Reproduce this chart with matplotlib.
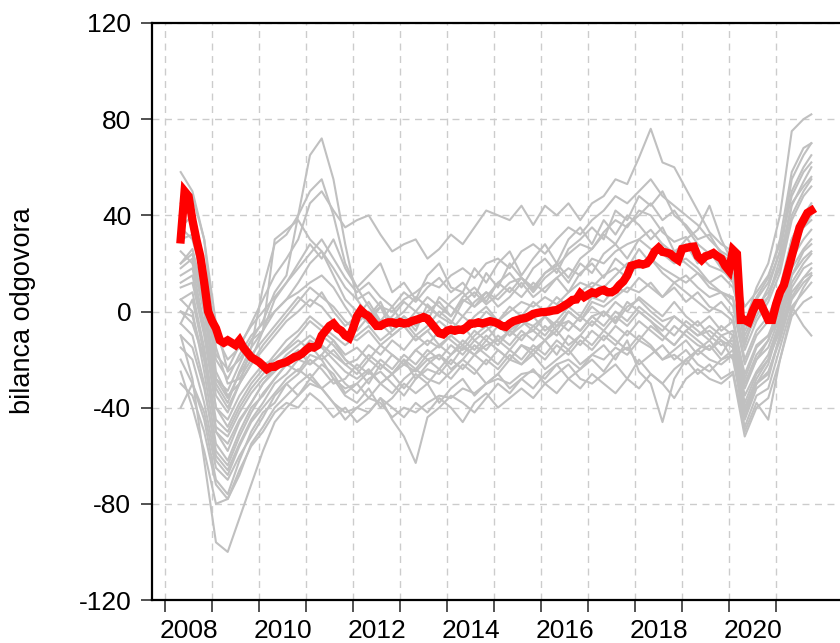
import numpy as np
import matplotlib
matplotlib.use("Agg")
import matplotlib.pyplot as plt

plt.rcParams['font.family'] = ['Liberation Sans', 'DejaVu Sans']
plt.rcParams['axes.unicode_minus'] = False

# monthly red series, May 2008 - Oct 2021
red = [30, 50, 48, 38, 30, 23, 12, 0, -4, -7,
       -12, -13, -12, -13, -14, -12, -15, -17, -19, -20,
       -21, -22.5, -24, -23, -23, -22, -21.5, -21, -20, -19,
       -18.5, -17.5, -16, -14.7, -15, -14, -10, -8, -6, -5,
       -7, -8, -10, -11, -7, -2, 0.5, -1, -2, -4,
       -6, -6, -5, -4.5, -4.5, -5, -4.4, -5, -4.8, -4,
       -3.5, -3, -2.3, -3, -5, -7, -9, -9.5, -8, -7.5,
       -8, -7.5, -7.7, -6.5, -5, -5, -4.5, -5, -4.5, -4,
       -4.4, -5, -6, -6.4, -5, -4, -3.5, -3, -2.7, -2,
       -1, -0.6, -0.3, -0.2, 0, 0.4, 0.6, 1.5, 2.5, 3.5,
       4.8, 5, 7.5, 6, 7, 8, 7.5, 8.5, 9, 8,
       8, 9, 11, 12.5, 15, 19, 19.5, 20, 19.5, 20,
       22, 25, 26.5, 24.8, 24.5, 24, 22.5, 21.4, 26, 26.4,
       26.8, 27, 23, 21.4, 23, 23.5, 24.3, 23, 22, 19,
       17, 25.6, 24, -3.5, -3.5, -4.4, 0, 3.5, 3.5, 0,
       -3.5, -3.5, 3, 8, 11, 17, 23, 29, 35, 38,
       41, 42]
red_months = list(range(len(red)))

# grey series, read roughly every quarter
grey_months = list(range(0, 160, 3)) + [161]

grey = [
    [20, 26, 6, -28, -33, -22, -12, -4, 8, 15, 40, 65, 72, 55, 28, 5, -2, 4, -6, -2,
     -8, 3, -2, -5, 4, 8, 3, 7, 12, 14, 9, 16, 19, 24, 28, 26, 33, 38, 35, 42,
     40, 33, 29, 31, 24, 19, 17, 14, -14, 1, 6, 19, 44, 54, 60],
    [35, 40, 20, -10, -20, -15, -5, 5, 15, 22, 30, 45, 50, 42, 35, 38, 40, 32, 25, 28,
     30, 22, 26, 32, 28, 35, 42, 40, 38, 44, 36, 44, 40, 45, 38, 45, 48, 55, 53, 64,
     76, 62, 60, 51, 42, 33, 28, 25, -5, 5, 12, 25, 55, 65, 70],
    [-10, -28, -62, -96, -100, -86, -72, -58, -46, -40, -35, -30, -32, -38, -42, -40, -36, -38, -44, -40,
     -42, -38, -35, -36, -32, -34, -30, -28, -30, -26, -25, -28, -22, -20, -24, -18, -20, -15, -18, -12,
     -15, -20, -18, -22, -16, -20, -22, -18, -40, -30, -25, -12, 5, 12, 15],
    [58, 50, 30, -5, -25, -20, -12, -8, 0, 5, 12, 20, 25, 18, 10, 5, 8, 2, 0, 5,
     8, 12, 10, 15, 18, 14, 20, 22, 18, 25, 28, 24, 30, 35, 32, 38, 42, 48, 45, 50,
     55, 48, 44, 40, 36, 30, 25, 22, -5, 10, 20, 40, 75, 80, 82],
    [0, -5, -20, -50, -55, -45, -38, -30, -25, -20, -18, -12, -15, -20, -25, -28, -24, -30, -26, -22,
     -25, -20, -18, -22, -15, -18, -14, -12, -16, -10, -8, -12, -6, -4, -8, -2, 0, -5, 2, 5,
     0, -4, -2, -6, -10, -8, -12, -15, -50, -38, -45, -20, 0, 10, 15],
    [-20, -30, -45, -70, -76, -62, -50, -42, -38, -30, -35, -28, -32, -38, -45, -40, -42, -36, -45, -52,
     -63, -44, -40, -35, -38, -42, -36, -30, -34, -28, -32, -26, -22, -28, -24, -20, -25, -18, -15, -22,
     -18, -14, -20, -16, -22, -25, -20, -18, -42, -30, -22, -5, 15, 25, 28],
    [5, 0, -25, -55, -62, -50, -40, -35, -28, -22, -25, -18, -20, -28, -32, -30, -25, -30, -34, -28,
     -24, -28, -30, -25, -20, -24, -30, -26, -20, -22, -18, -24, -20, -16, -22, -18, -14, -20, -12, -25,
     -30, -46, -28, -20, -16, -12, -18, -10, -30, -20, -12, 5, 25, 35, 38],
    [45, 48, 30, -15, -30, -28, -20, -8, 30, 34, 38, 30, 25, 15, 5, 0, -5, 2, -8, -4,
     -10, -6, 0, -4, -8, -2, 2, -4, 0, 4, 2, 6, 3, 8, 12, 10, 15, 18, 14, 20,
     22, 18, 15, 12, 16, 10, 8, 5, -20, -8, -2, 10, 30, 40, 45],
    [30, 32, 10, -20, -28, -18, -10, -5, 0, 5, 8, 12, 15, 10, 2, -5, 0, -6, -2, 4,
     0, 6, 2, -2, 5, 2, 8, 5, 10, 6, 12, 8, 14, 18, 15, 22, 20, 25, 28, 30,
     26, 24, 20, 22, 18, 12, 15, 10, -8, 2, 8, 18, 40, 50, 55],
    [12, 15, -8, -40, -45, -35, -28, -22, -20, -15, -10, -4, -8, -12, -18, -15, -20, -14, -18, -22,
     -16, -12, -15, -10, -14, -8, -12, -6, -10, -4, -6, -2, -8, 0, -4, 4, 2, 6, 10, 8,
     12, 6, 10, 4, 8, 2, 0, -4, -28, -15, -10, 2, 22, 30, 34],
    [-5, -10, -30, -60, -66, -55, -45, -38, -30, -26, -20, -22, -18, -24, -30, -34, -28, -25, -30, -35,
     -28, -24, -26, -20, -24, -18, -22, -16, -20, -14, -16, -12, -18, -10, -14, -8, -12, -6, -10, -4,
     -8, -12, -6, -10, -14, -16, -12, -20, -45, -32, -28, -10, 10, 18, 20],
    [40, 42, 15, -25, -35, -30, -22, -16, -10, -4, 0, 5, 2, -4, -10, -12, -8, -14, -10, -6,
     -12, -8, -4, -8, -2, -6, 0, -4, 2, -2, 4, 0, 6, 2, 8, 12, 10, 15, 20, 18,
     22, 16, 12, 15, 10, 6, 8, 2, -22, -10, -4, 8, 30, 40, 44],
    [25, 20, 0, -30, -38, -25, -15, -8, 5, 12, 20, 28, 22, 30, 18, 10, 15, 20, 8, 12,
     5, 15, 20, 10, 8, 18, 12, 20, 25, 15, 22, 28, 20, 30, 35, 28, 38, 32, 40, 36,
     30, 35, 25, 28, 20, 25, 18, 12, -10, 0, 10, 25, 50, 60, 65],
    [-30, -35, -50, -72, -78, -68, -55, -48, -40, -35, -30, -26, -32, -28, -35, -38, -32, -40, -36, -30,
     -34, -30, -38, -32, -28, -35, -30, -26, -32, -28, -24, -30, -26, -22, -28, -30, -26, -22, -28, -20,
     -26, -30, -24, -20, -26, -22, -28, -25, -48, -35, -32, -15, 2, 8, 12],
    [-40, -30, -42, -65, -70, -60, -52, -44, -35, -30, -26, -20, -24, -30, -28, -22, -26, -20, -24, -18,
     -22, -16, -20, -14, -18, -12, -16, -10, -14, -8, -12, -6, -10, -4, -8, -2, -6, 0, -4, 2,
     -2, -6, -10, -4, -8, -12, -6, -10, -35, -25, -18, -4, 15, 22, 25],
    [15, 18, -5, -35, -42, -30, -15, 10, 28, 32, 40, 50, 55, 40, 20, 10, 2, -5, -10, -6,
     -12, -8, -14, -10, -6, -12, -8, -4, -10, -6, -2, -8, -4, 2, -2, 6, 4, 10, 8, 14,
     10, 6, 12, 8, 4, 0, 4, -2, -30, -18, -12, 0, 25, 35, 40],
    [10, 12, -10, -40, -48, -38, -30, -24, -18, -12, -8, -2, -6, -10, -14, -10, -6, -12, -8, -2,
     -6, 0, 4, -2, 6, 10, 4, 12, 16, 10, 18, 22, 16, 26, 30, 35, 30, 42, 38, 48,
     44, 50, 40, 36, 30, 32, 24, 20, -6, 6, 14, 30, 58, 68, 70],
    [-15, -20, -38, -62, -68, -56, -46, -40, -34, -28, -24, -28, -22, -26, -34, -30, -36, -30, -26, -32,
     -26, -30, -24, -28, -22, -26, -20, -24, -18, -22, -16, -20, -14, -18, -12, -16, -10, -14, -8, -12,
     -6, -10, -14, -8, -12, -16, -10, -14, -40, -28, -20, -6, 12, 20, 24],
    [20, 24, 2, -28, -36, -26, -18, -12, -6, 0, 6, 2, 8, 0, -6, -2, 4, -4, 2, -6,
     0, -4, 6, 2, -2, 4, 8, 2, 6, 12, 6, 10, 14, 8, 16, 20, 14, 22, 18, 26,
     20, 28, 24, 30, 34, 44, 30, 20, 2, 8, 15, 28, 48, 58, 62],
    [-25, -40, -58, -80, -78, -66, -56, -50, -42, -38, -40, -34, -38, -44, -40, -46, -42, -36, -40, -44,
     -38, -42, -36, -40, -46, -38, -34, -40, -36, -32, -36, -30, -34, -28, -32, -26, -30, -34, -28, -32,
     -26, -30, -36, -28, -24, -28, -30, -26, -52, -40, -36, -20, -2, 4, 6],
    [5, 8, -15, -45, -50, -40, -32, -26, -20, -16, -12, -16, -10, -14, -20, -24, -18, -22, -26, -20,
     -24, -18, -14, -18, -12, -16, -10, -14, -8, -12, -6, -10, -4, -8, -2, -6, 0, -4, 4, 0,
     -4, -8, -2, -6, -10, -6, -10, -8, -32, -20, -15, -2, 18, 26, 30],
    [35, 30, 12, -18, -24, -14, -6, 0, 6, 12, 18, 24, 30, 22, 14, 8, 12, 6, 2, 8,
     4, 10, 14, 8, 12, 6, 16, 10, 20, 14, 8, 14, 18, 12, 20, 16, 24, 28, 22, 30,
     34, 28, 24, 20, 16, 12, 8, 6, -16, -4, 4, 16, 38, 48, 52],
    [-10, -15, -32, -58, -64, -52, -42, -34, -28, -22, -18, -14, -20, -16, -22, -26, -20, -24, -18, -22,
     -16, -20, -24, -18, -14, -18, -12, -16, -20, -14, -18, -12, -8, -14, -10, -4, -8, -2, -6, 0,
     -4, -10, -14, -8, -4, -10, -14, -12, -38, -26, -20, -8, 8, 14, 16],
    [0, -2, -20, -48, -52, -42, -34, -28, -24, -18, -14, -10, -14, -18, -22, -20, -14, -18, -12, -16,
     -10, -14, -8, -12, -16, -10, -6, -12, -8, -4, -8, -2, -6, 0, -4, 2, -2, 4, 0, 6,
     2, -2, 4, -2, -6, -2, -8, -4, -26, -14, -10, -4, 2, -6, -10],
    [18, 22, 0, -32, -40, -30, -22, -14, -8, -2, 4, 10, 6, 2, -4, -8, -2, 2, -4, 0,
     6, 2, -2, 4, 8, 2, 6, 12, 8, 14, 10, 16, 20, 14, 22, 26, 32, 28, 36, 40,
     45, 38, 42, 35, 28, 24, 20, 16, -12, -2, 6, 22, 45, 52, 56],
    [-5, 5, -18, -50, -58, -46, -38, -30, -24, -20, -16, -22, -18, -12, -20, -24, -30, -22, -26, -20,
     -28, -22, -18, -24, -20, -14, -18, -22, -16, -20, -14, -18, -12, -16, -10, -14, -8, -12, -16, -10,
     -14, -20, -16, -12, -18, -14, -20, -16, -44, -30, -26, -10, 6, 14, 18],
]

year_ticks = list(range(2008, 2022))
label_years = [2008, 2010, 2012, 2014, 2016, 2018, 2020]

# months counted from May 2008
red_x = [2008 + (4 + m) / 12 for m in red_months]
grey_x = [2008 + (4 + m) / 12 for m in grey_months]

fig = plt.figure(figsize=(8.4, 6.43), dpi=100)
ax = fig.add_axes([152 / 840, 1 - 600 / 643, 688 / 840, 577 / 643])

for s in grey:
    ax.plot(grey_x, s, color='#c0c0c0', lw=1.5, zorder=2)
ax.plot(red_x, red, color='#ff0000', lw=6, solid_joinstyle='miter', zorder=3)

ax.set_xlim(2007.723, 2022.36)
ax.set_ylim(-120, 120)

ax.set_xticks(year_ticks)
ax.set_xticklabels([])
ax.set_xticks([y + 0.5 for y in label_years], minor=True)
ax.set_xticklabels([str(y) for y in label_years], minor=True)
ax.set_yticks(range(-120, 121, 40))

ax.tick_params(axis='x', which='major', length=8.5, width=1.2, direction='out', color='#333333')
ax.tick_params(axis='x', which='minor', length=0, pad=13.5, labelsize=19)
ax.tick_params(axis='y', length=8, width=1.2, pad=7, labelsize=19, color='#333333')

ax.grid(True, which='major', color='#cccccc', linestyle=(0, (5, 4)), lw=1)
ax.set_axisbelow(True)

for side in ['left', 'top', 'bottom']:
    ax.spines[side].set_linewidth(1.6)
    ax.spines[side].set_color('black')
ax.spines['right'].set_visible(False)

fig.text(23 / 840, 1 - 311 / 643, 'bilanca odgovora', rotation=90,
         ha='center', va='center', fontsize=19.5)

plt.savefig('out.png', dpi=100)
